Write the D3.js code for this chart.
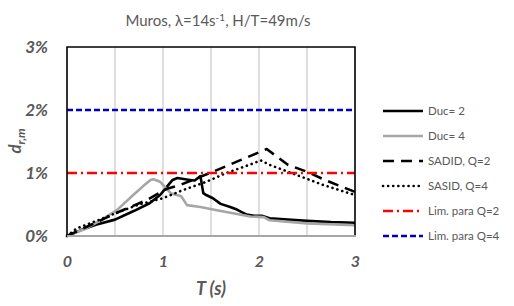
<!DOCTYPE html>
<html>
<head>
<meta charset="utf-8">
<script src="https://cdn.jsdelivr.net/npm/d3@7"></script>
<style>
  body { margin: 0; background: #fff; }
  svg { display: block; font-family: Lato, "Liberation Sans", sans-serif; }
</style>
</head>
<body>
<svg id="chart" width="514" height="306"></svg>
<script>
// periods T (s) and drift d (%)
const duc2T = [0, 0.14, 0.3, 0.5, 0.7, 0.86, 0.97, 1.05, 1.1, 1.15, 1.28, 1.33, 1.39, 1.42, 1.45, 1.52, 1.6, 1.7, 1.77, 1.87, 1.95, 2.03, 2.07, 2.11, 2.3, 2.5, 2.75, 3.0];
const duc2D = [0, 0.09, 0.18, 0.26, 0.4, 0.52, 0.65, 0.8, 0.89, 0.92, 0.89, 0.88, 0.95, 0.68, 0.65, 0.6, 0.51, 0.46, 0.42, 0.34, 0.32, 0.32, 0.3, 0.28, 0.26, 0.24, 0.22, 0.21];

const duc4T = [0, 0.2, 0.35, 0.52, 0.69, 0.8, 0.87, 0.9, 0.97, 1.05, 1.08, 1.19, 1.25, 1.39, 1.56, 1.73, 1.91, 2.05, 2.11, 2.5, 3.0];
const duc4D = [0, 0.12, 0.25, 0.41, 0.65, 0.8, 0.89, 0.9, 0.86, 0.73, 0.68, 0.63, 0.49, 0.46, 0.41, 0.36, 0.31, 0.3, 0.25, 0.2, 0.17];

const sadidT = [0, 0.55, 0.83, 1.04, 1.18, 1.52, 1.8, 2.08, 2.3, 2.5, 2.7, 2.9, 3.0];
const sadidD = [0, 0.39, 0.57, 0.75, 0.81, 1.02, 1.2, 1.38, 1.13, 1.02, 0.88, 0.76, 0.7];

const sasidT = [0, 0.1, 0.34, 0.52, 0.75, 1.0, 1.21, 1.45, 1.66, 1.9, 2.02, 2.11, 2.39, 2.67, 3.0];
const sasidD = [0, 0.12, 0.26, 0.37, 0.5, 0.6, 0.73, 0.86, 1.0, 1.13, 1.2, 1.13, 0.97, 0.81, 0.65];

const limQ2 = 1;
const limQ4 = 2;

const xTicks = [0, 1, 2, 3];
const yTicks = [0, 1, 2, 3];
const gridT = [0.5, 1, 1.5, 2, 2.5];

const series = [
  { name: "Duc= 2", T: duc2T, D: duc2D, color: "#000", width: 2.6, dash: null },
  { name: "Duc= 4", T: duc4T, D: duc4D, color: "#a6a6a6", width: 2.6, dash: null },
  { name: "SADID, Q=2", T: sadidT, D: sadidD, color: "#000", width: 2.6, dash: "11,7" },
  { name: "SASID, Q=4", T: sasidT, D: sasidD, color: "#000", width: 2.6, dash: "0.1,5", cap: "round" },
  { name: "Lim. para Q=2", T: [0, 3], D: [limQ2, limQ2], color: "#ff0000", width: 2.4, dash: "10,4,2,4" },
  { name: "Lim. para Q=4", T: [0, 3], D: [limQ4, limQ4], color: "#0000c0", width: 2.4, dash: "6,3" }
];

const svg = d3.select("#chart");
const grey = "#595959";
const plotL = 67, plotR = 355, plotT = 47, plotB = 236;

const x = d3.scaleLinear().domain([0, 3]).range([plotL, plotR]);
const y = d3.scaleLinear().domain([0, 3]).range([plotB, plotT]);

// title
const title = svg.append("text")
  .attr("x", 218).attr("y", 26)
  .attr("text-anchor", "middle")
  .attr("fill", grey)
  .style("font-size", "15px");
title.append("tspan").text("Muros, λ=14s");
title.append("tspan").attr("dy", -5).style("font-size", "10px").text("-1");
title.append("tspan").attr("dy", 5).text(", H/T=49m/s");

// vertical grid
svg.append("g")
  .selectAll("line")
  .data(gridT)
  .join("line")
  .attr("x1", d => x(d)).attr("x2", d => x(d))
  .attr("y1", plotT).attr("y2", plotB)
  .attr("stroke", "#bfbfbf").attr("stroke-width", 1);

// series
const line = d3.line().x(d => x(d[0])).y(d => y(d[1]));
svg.append("g")
  .selectAll("path")
  .data(series)
  .join("path")
  .attr("d", s => line(s.T.map((t, i) => [t, s.D[i]])))
  .attr("fill", "none")
  .attr("stroke", s => s.color)
  .attr("stroke-width", s => s.width)
  .attr("stroke-dasharray", s => s.dash)
  .attr("stroke-linecap", s => s.cap || "butt")
  .attr("stroke-linejoin", "round");

// frame
svg.append("path")
  .attr("d", `M${plotL},${plotB}V${plotT}H${plotR}V${plotB}`)
  .attr("fill", "none").attr("stroke", "#000").attr("stroke-width", 1.6);
svg.append("line")
  .attr("x1", plotL).attr("x2", plotR + 1)
  .attr("y1", plotB).attr("y2", plotB)
  .attr("stroke", "#a6a6a6").attr("stroke-width", 2);

// axis labels
const yAxis = svg.append("g")
  .attr("transform", `translate(${plotL - 16},0)`)
  .call(d3.axisLeft(y).tickValues(yTicks).tickSize(0).tickFormat(d => d + "%"));
yAxis.select(".domain").remove();
yAxis.selectAll("text")
  .attr("fill", grey)
  .style("font-family", "Lato, sans-serif")
  .style("font-size", "17px").style("font-weight", "bold").style("font-style", "italic");

const xAxis = svg.append("g")
  .attr("transform", `translate(0,${plotB + 17})`)
  .call(d3.axisBottom(x).tickValues(xTicks).tickSize(0).tickFormat(d3.format("d")));
xAxis.select(".domain").remove();
xAxis.selectAll("text")
  .attr("fill", grey)
  .style("font-family", "Lato, sans-serif")
  .style("font-size", "16px").style("font-weight", "bold").style("font-style", "italic");

svg.append("text")
  .attr("x", 211).attr("y", 295)
  .attr("text-anchor", "middle")
  .attr("fill", grey)
  .style("font-size", "18px").style("font-weight", "bold").style("font-style", "italic")
  .text("T (s)");

const yTitle = svg.append("text")
  .attr("transform", "translate(21,141) rotate(-90)")
  .attr("text-anchor", "middle")
  .attr("fill", grey)
  .style("font-size", "17px").style("font-weight", "bold").style("font-style", "italic");
yTitle.append("tspan").text("d");
yTitle.append("tspan").attr("dy", 4).style("font-size", "12px").text("r,m");

// legend
const legend = svg.append("g")
  .selectAll("g")
  .data(series)
  .join("g")
  .attr("transform", (d, i) => `translate(383,${111 + i * 25})`);
legend.append("line")
  .attr("x1", 0).attr("x2", 40)
  .attr("stroke", d => d.color)
  .attr("stroke-width", d => d.width)
  .attr("stroke-dasharray", d => d.dash)
  .attr("stroke-linecap", d => d.cap || "butt");
legend.append("text")
  .attr("x", 45).attr("y", 4)
  .attr("fill", grey)
  .style("font-size", "11.5px")
  .text(d => d.name);
</script>
</body>
</html>
